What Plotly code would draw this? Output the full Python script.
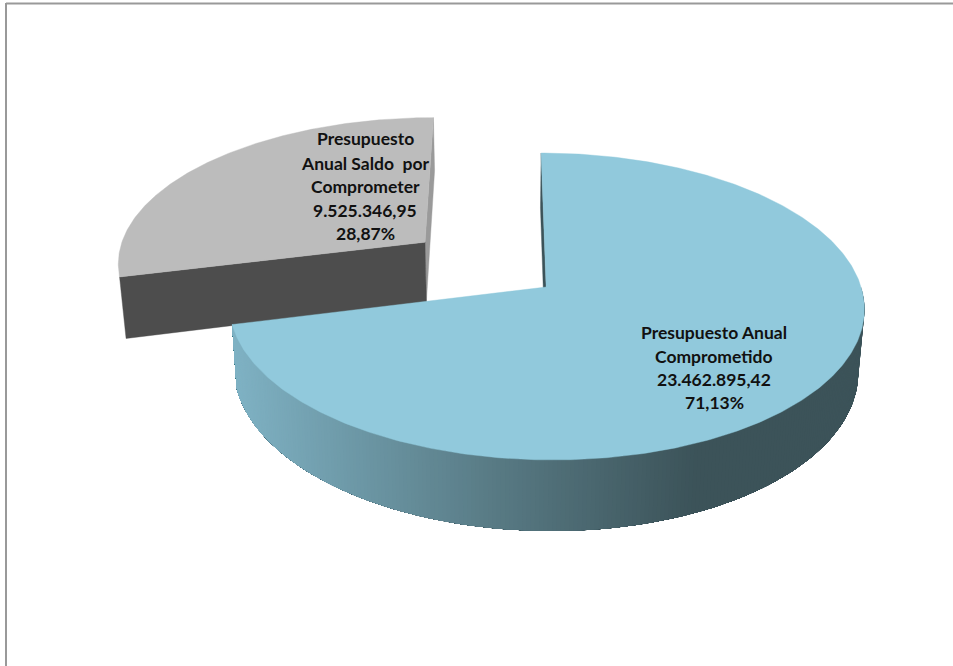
import numpy as np
import plotly.graph_objects as go

# ---- data ----
categories = ["Presupuesto Anual Comprometido", "Presupuesto Anual Saldo por Comprometer"]
values = [23462895.42, 9525346.95]
percent_labels = ["71,13%", "28,87%"]
value_labels = ["23.462.895,42", "9.525.346,95"]
label_lines = [
    ["Presupuesto Anual", "Comprometido"],
    ["Presupuesto", "Anual Saldo  por", "Comprometer"],
]
explode = [0.0, 0.5]
top_colors = ["#91C9DC", "#BCBCBC"]

# ---- projection of the tilted pie ----
A, B, P = 315.0, 151.0, 0.127
X0, Y0, UOFF = 502.0, 287.0, 0.14
HEIGHT, SHRINK = 62.0, 0.017


def project(u, v, bottom=False):
    u, v = np.asarray(u, float), np.asarray(v, float)
    s = 1.0 / (1.0 + P * v)
    x = X0 + A * (u + UOFF) * s
    y = Y0 - B * v * s
    if bottom:
        x = X0 + (x - X0) * (1 - SHRINK)
        y = y + HEIGHT * s
    return x, y


total = sum(values)
sweeps = [360.0 * v / total for v in values]
blue_a0, blue_a1 = 0.0, sweeps[0]
grey_a0, grey_a1 = sweeps[0], 360.0
grey_mid = np.radians((grey_a0 + grey_a1) / 2)
off = (explode[1] * np.sin(grey_mid), explode[1] * np.cos(grey_mid))


def arc(a0, a1, cu=0.0, cv=0.0, n=200):
    t = np.radians(np.linspace(a0, a1, n))
    return cu + np.sin(t), cv + np.cos(t)


fig = go.Figure()


def poly(x, y, color, width=0.4):
    x = np.r_[x, x[0]]
    y = np.r_[y, y[0]]
    fig.add_trace(go.Scatter(x=x, y=y, mode="lines", fill="toself", fillcolor=color,
                             line=dict(color=color, width=width), hoverinfo="skip", showlegend=False))


def radial_wall(a, cu, cv, color):
    t = np.radians(a)
    us, vs = [cu, cu + np.sin(t)], [cv, cv + np.cos(t)]
    xt, yt = project(us, vs)
    xb, yb = project(us, vs, bottom=True)
    poly(np.r_[xt, xb[::-1]], np.r_[yt, yb[::-1]], color)


# grey slice
radial_wall(grey_a1, off[0], off[1], "#9A9A9A")
radial_wall(grey_a0, off[0], off[1], "#4D4D4D")
au, av = arc(grey_a0, grey_a1, off[0], off[1])
xs, ys = project(np.r_[off[0], au], np.r_[off[1], av])
poly(xs, ys, top_colors[1])

# blue slice: inner wall, curved wall as nested shaded bands (no seams), top
radial_wall(blue_a0, 0.0, 0.0, "#3C5359")

shade_x = [230, 500, 700, 870]
shade_r = [0x80, 0x58, 0x3C, 0x3C]
shade_g = [0xB3, 0x7A, 0x53, 0x53]
shade_b = [0xC5, 0x84, 0x59, 0x59]
edges = np.linspace(90.0, blue_a1, 241)
for a0 in edges[:-1]:
    n = max(4, int((blue_a1 - a0) / 1.5))
    uu, vv = arc(a0, blue_a1, n=n)
    xt, yt = project(uu, vv)
    xb, yb = project(uu, vv, bottom=True)
    xm = xt[0]
    col = "rgb(%d,%d,%d)" % (np.interp(xm, shade_x, shade_r), np.interp(xm, shade_x, shade_g),
                             np.interp(xm, shade_x, shade_b))
    poly(np.r_[xt, xb[::-1]], np.r_[yt, yb[::-1]], col, width=0)

au, av = arc(blue_a0, blue_a1, n=400)
xs, ys = project(np.r_[0.0, au], np.r_[0.0, av])
poly(xs, ys, top_colors[0])

# labels, one text per line
blue_lines = label_lines[0] + [value_labels[0], percent_labels[0]]
grey_lines = label_lines[1] + [value_labels[1], percent_labels[1]]
annos = []
for lines, cx, ys_ in [(blue_lines, 714, [332, 356, 379, 402]),
                       (grey_lines, 365, [138, 163, 186, 210, 233])]:
    for line, yy in zip(lines, ys_):
        annos.append(dict(x=cx, y=yy, text="<b>%s</b>" % line, showarrow=False, xref="x", yref="y",
                          font=dict(family="Lato", size=17.5, color="#111111")))

frame = [
    dict(type="line", xref="x", yref="y", x0=6, x1=953, y0=3.5, y1=3.5, line=dict(color="#999999", width=2)),
    dict(type="line", xref="x", yref="y", x0=6, x1=6, y0=3, y1=666, line=dict(color="#999999", width=2)),
]

fig.update_layout(
    width=953, height=666, margin=dict(l=0, r=0, t=0, b=0),
    paper_bgcolor="white", plot_bgcolor="white", showlegend=False,
    xaxis=dict(range=[0, 953], visible=False, fixedrange=True),
    yaxis=dict(range=[666, 0], visible=False, fixedrange=True),
    annotations=annos, shapes=frame,
)
fig.write_html("out.html", config={"displayModeBar": False},
               post_script="document.body.style.margin='0';document.body.style.overflow='hidden';")
